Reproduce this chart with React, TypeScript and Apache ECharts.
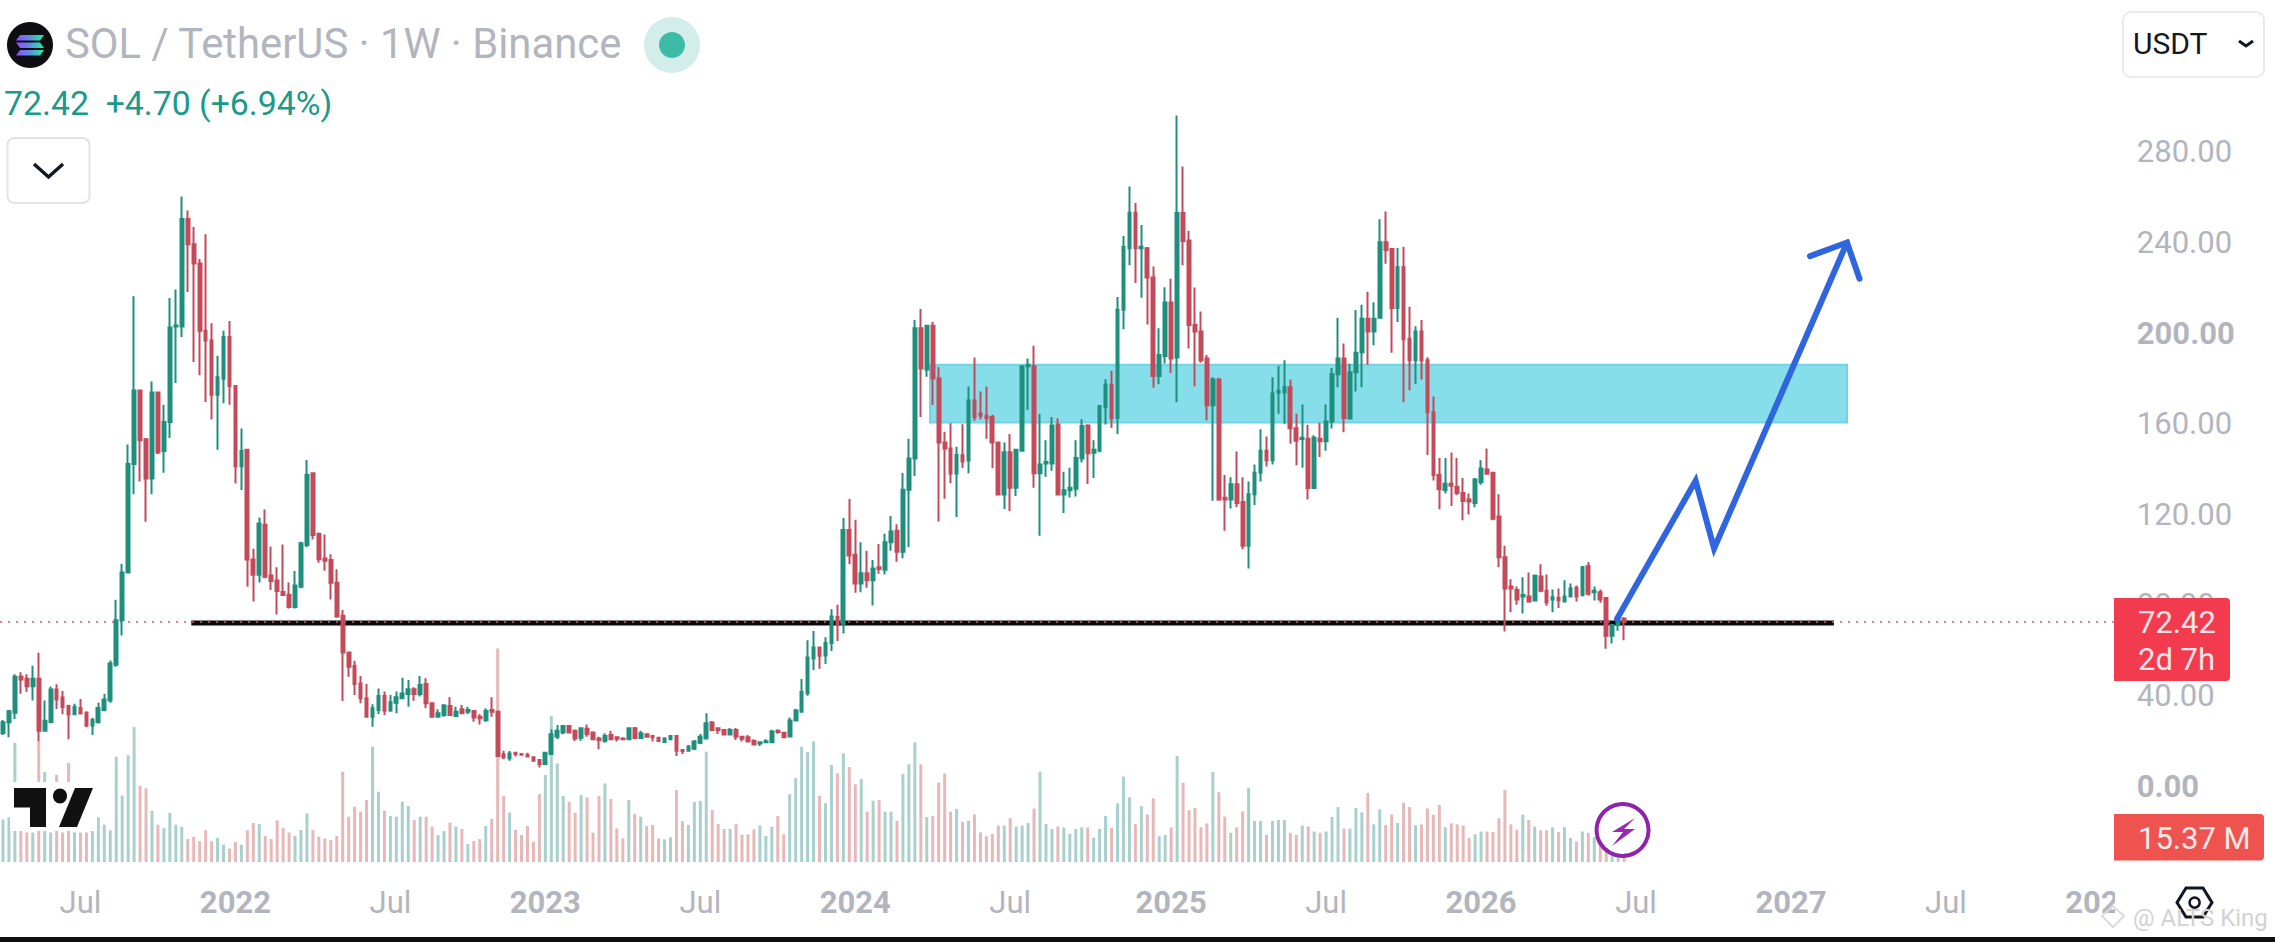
import React, { useEffect, useRef } from "react";
import * as echarts from "echarts";

const FONT = "Roboto";
const WEEK_COUNT = 355;

const opens = [
  23.4,28.2,32.4,48.3,47.4,44.1,47.4,24.4,28.2,42.6,
  39.1,35.3,31.7,34.4,32.4,26.7,28.2,33.6,37.8,53.5,
  73.2,94.3,142.2,174.7,153.1,135.8,173.8,147.9,160.7,202.9,
  202.9,250.4,239.3,230.8,201,196.7,172.8,179.9,198.3,176.6,
  141.2,148.5,100,93.3,115.4,93,90.8,85.7,84.3,79,
  88,106.4,138.1,111.3,100.5,99.8,89.8,75.2,59,53,
  45.3,38.7,30.6,33.6,39.8,33.3,36.8,38.7,40.6,42.7,
  40.6,45,36.5,30.6,31.4,35.3,30.9,33.9,32.8,33.1,
  30.6,29.2,33.6,32.8,14,12.2,14.7,14.1,13.7,12.7,
  11.5,9.7,14.1,21.8,23.6,26.5,24.4,21.3,25.3,23.6,
  21,20,22.5,21.5,21,20.6,25.5,21.2,22.8,22.1,
  21.3,19.4,20.6,22.1,15.9,15.6,16.5,19.1,21,28,
  25.5,24.7,22.7,24.7,21.7,21.5,19.9,18.8,19.3,19.3,
  24.4,23.5,21.9,28.9,32.8,41,56.3,61.2,57.6,63.1,
  74.6,71.6,113.1,102.1,89.4,94,90.9,96.6,95.5,107.6,
  112.7,103.4,130.8,144.6,202.1,183.9,203.3,180,151.7,149.1,
  138,146.1,143.7,170.3,164.5,163.5,163,151.7,128.7,147.4,
  131.7,148,185.4,185.4,138.1,142.4,142.4,159.6,128.7,130.6,
  131.3,144.6,159.2,147.2,148,167.3,177.2,162.6,210.3,237.5,
  253.2,237.5,237.5,224.6,181.1,189.9,213.5,189.2,253,240.9,
  203.6,200.7,188.8,168.2,179.5,127.3,126.5,133.3,125.4,106.1,
  128.8,138.3,148.1,143.9,173.8,173.8,176.1,158,153.2,153.4,
  131.6,153.4,152.3,161,181.8,188.8,162.3,182.7,191.6,206.4,
  200.7,206.8,240.1,237.1,211.1,229.1,197.5,188,200.7,188,
  165.1,137.3,130.7,133.5,132.2,129.4,126.5,125,134.1,139.8,
  138.3,119,101,88.1,86.6,83.7,83.7,81.9,92.5,86.2,
  82.4,83,81.5,83.7,87.5,84.3,97,85.6,85.6,83,
  66.3,71.1,74,
];

const closes = [
  28.2,33,48.3,47,44.1,47.4,24.4,28.8,42.6,38.2,
  34.9,31.7,34.9,32,26.7,29.2,34.4,38.2,54.1,73.2,
  94.3,142.2,174.7,152.7,135.8,173.8,147.3,160.7,202.5,203.4,
  250.4,239.3,230.8,201,196.7,172.8,180.5,198.3,176.6,141.2,
  147.9,100,93.3,115.9,92.4,90.5,86.1,84.3,79,88.5,
  107.2,137.3,110.8,100.1,99.5,89.8,74.8,59,52.7,45,
  38.7,30.6,34.3,39.8,33.3,37,39.2,40.9,42.7,40.6,
  44.6,36.5,30.6,32.1,35.5,31.4,32.8,32.1,33.6,30.3,
  29.9,33.1,32.8,13.3,12.7,14.4,14.1,13.8,13,11.2,
  9.7,14.7,22.8,24.4,26.5,23.6,21,25.5,23,20.6,
  20.3,22.1,20.6,20.9,20.6,25.5,21.2,23.3,21.8,21.5,
  19.9,21,22.1,15.6,15.5,17.4,19.7,21.8,27.7,24.7,
  24.7,22.7,24.7,21.8,20.9,19.6,18.3,19.3,19.8,24.1,
  23.8,21.5,28.9,33.3,41.5,56.7,61.2,57.5,63.1,74.9,
  71.2,113.1,101.8,89.4,94,90.9,96.1,95.8,107.6,112.4,
  103.4,130.8,144.6,202.1,184.4,203.3,180,151.7,149,138,
  146.2,143.3,170.3,163,163.5,162.4,151.7,128.7,147.4,131.7,
  148.5,185.4,186,138.1,142,143.1,159.2,128.7,130.6,131.7,
  144.8,159,147,148.5,167.8,177.2,162.4,210.3,238,253.2,
  237.5,238.2,224.6,181.1,190.3,213.5,188.8,253,240.7,203.6,
  200.7,188,168.2,179.5,126.5,126.5,133.3,125,106.1,128.8,
  138.3,148.1,143.9,173.3,174.6,176.1,158,152.5,153.8,131.6,
  153.8,152.3,161,181.8,188.8,162.5,182.7,191.3,206.4,200.7,
  206.4,240.1,236.7,211.1,229.1,197.3,188,200.7,187.9,165.1,
  137.3,131.1,133.5,132.6,129.4,125.9,125.6,135.4,140.2,137.9,
  118,101,87.2,87.2,82.4,84.3,81.5,92.8,86.2,81.1,
  83.4,82,83.7,87.2,83.7,96.6,84.9,86.2,82.4,66.3,
  71.1,73.9,72.42,
];

const lows = [
  22.5,21.5,29.6,40.7,41.6,37.8,19.6,24.4,27.8,34,
  31.7,20.6,31.5,31.7,25.9,22.5,27.6,33,36.8,52.7,
  66.5,94.3,128.8,134.5,116.7,128.8,146.6,138.3,153.7,178,
  198.3,218.2,187.2,181.4,169.6,161.9,148.5,169,168.4,133.6,
  130.7,88,81.5,89.9,91.8,86.6,75.7,84.1,78.4,78.4,
  87.3,105.4,108.9,98.6,95.1,82.4,74.3,37.5,48.3,40.2,
  36.5,30.6,26.2,31.8,31.4,32.8,32.1,38.7,35,37.7,
  39.5,34.3,30.3,30.6,30.6,30.9,30.6,31.8,31.8,28.4,
  27.2,28.3,30.6,13,11.8,11.2,13,13.5,12.7,11.2,
  8.2,9.7,14.1,20.8,22.8,23.3,19.9,20,21.8,20.3,
  16.2,19.1,20.3,19.6,20.3,20.6,20.9,20.8,21.5,19.7,
  19.6,19.1,20.3,13.3,14.1,15.5,15.9,18.6,20.6,24.4,
  23,22.5,22.4,20.3,19.6,19.6,18,17.7,19.3,19.1,
  23.1,21.4,21.7,28.8,32.7,39.9,51.2,51.8,53.9,59.6,
  64,67.3,97.9,85.3,85.6,87.6,79.7,93.7,93.4,103.9,
  99,100.6,105.5,136.9,163,180.7,168.3,116.8,126.9,133.7,
  118.8,140.4,138.1,161.3,161.8,153.4,140.3,128.5,122.3,121.4,
  128.1,147.8,166.1,131.7,110.5,136.6,139.2,128.5,120.6,127.4,
  127.8,142.9,133.4,136,147.4,159.6,158.1,155.5,201.7,230,
  222.1,215.6,203.8,175.9,177.4,186.6,182.4,169.5,230,193.2,
  176.5,186.9,161.5,126,126,112.7,122.5,123.1,104.6,96.1,
  124.1,134.5,141.1,142,164.4,160,151.1,141.7,140.5,126.5,
  131.3,145.3,148.1,157.9,176.1,156.2,161.9,174.2,176.1,186,
  194.7,206.8,230.6,191.3,204.9,169.5,174.8,177.6,179.5,146.2,
  134.9,122.2,129.2,123.7,128.4,117.4,119.9,123.1,133,137.9,
  117.4,96.6,68.2,76.7,80,76.2,80.9,81.9,85.6,79.6,
  76.7,78.6,81.5,83.4,81.5,83.7,84.1,81.9,80.9,60.6,
  62.9,68.6,64.4,
];

const highs = [
  29.2,33.6,49.3,50.2,49.3,53.1,58.9,37.8,43.9,44.9,
  42,35.9,36.3,38.4,33,30.1,36.8,40.7,55.4,82.2,
  98.1,150.8,216.3,175.1,153.7,178.6,174.1,168.4,215.5,219.3,
  260.3,254.2,246.9,232.7,243.7,204.4,190,201,205.4,177,
  157.9,148.9,104.8,118.6,122.1,105.8,96.6,106.7,89.9,94.9,
  107.9,144,138.5,111.9,111.1,102.3,95.7,77.7,59,55.3,
  48.6,45,36.1,43.1,41.7,40.2,41.7,47.8,46.8,43.6,
  48.6,47.6,36.8,33.9,36.2,39.2,35,35.8,35,33.6,
  31.7,34.3,39.2,33.3,15.6,15.5,15,14.4,14.7,13,
  11.8,15,25,26.9,26.9,26.5,25,25.9,27.2,24,
  21.8,23.3,24.4,21.8,21.5,25.6,26.1,24.4,23.3,22.5,
  21.8,21.5,22.5,22.5,16.2,18.1,20.3,23,32.1,28.7,
  25.9,25,25.6,25.6,21.9,22.5,20.6,19.8,20.6,24.8,
  25.1,23.8,30.2,34.1,47.3,64.4,68.4,61.5,65.7,78.1,
  80,118.4,126.7,117.6,107.6,103.9,99.8,106.9,111.4,119.2,
  115.6,138.2,153.3,205.8,210.7,203.7,204.9,184.9,156.5,160.2,
  149.8,159.8,176.4,189.2,174.2,176.4,163.9,152.1,151.7,155.5,
  148.9,185.6,188.8,194.4,164.3,152.7,163,162.4,138.8,140.5,
  152.7,162,159.8,152.7,168.2,179.6,183.4,216,242.9,264.8,
  257.5,247.8,238,229.4,202.1,220.3,224,296.1,273.6,245.2,
  220.2,209.6,190.3,180.5,180.3,137.3,136.4,147.7,136.4,134.5,
  142,157.6,154.4,180.5,185.6,188,179.5,164.4,168.5,159.5,
  154.9,160.4,168.5,184.6,206.8,195.4,186.5,210.2,212.5,218.3,
  213.6,250.3,253.7,237.6,237.6,238.2,211.7,203,205.8,189.4,
  172,144.9,144.9,147.3,144.9,136,129.2,136,143.9,149,
  138.3,128.8,106.1,91.3,88.1,92.2,94.3,93.4,97.9,93.4,
  86.8,87.2,90.9,89.4,88.5,97.2,98.9,88.1,86.8,83.4,
  71.6,74.3,74.5,
];

const volumesM = [
  27.2,28.6,76.3,34.1,18.9,18.9,77.1,57.7,18.9,55.8,
  18.9,63.3,18.9,18.9,18.9,22.5,28.6,23.9,20.3,67.4,
  42.5,68.3,86.3,48.8,47.2,32.7,23.9,21.6,31.4,23.9,
  22.5,14.7,16.1,13.3,20.3,13.3,15.3,11.1,8.6,12.8,
  11.1,20.3,25,24.4,16.7,14.7,26.6,21.6,18.9,16.7,
  20.5,31.1,20.5,16.2,15.1,14.1,16.6,57.8,29,35.4,
  32.2,39.7,73.8,45,32.8,29.4,29,38.6,35.8,26.9,
  29,29,22.6,17.3,19.8,25.2,22.6,21.1,11.5,13.4,
  14.7,23,27.5,136.7,42.2,31.6,20.5,17.3,23,13,
  43.5,55.7,93.4,63.1,42.2,38.6,31.6,42.9,41.4,18.8,
  42.2,50.3,40.3,21.5,15.1,39.7,30.7,29,23,23.7,
  15.1,14.5,15.8,46.1,26.2,23.7,38.4,39,70.6,33.3,
  24.3,21.1,21.1,24.3,17.5,17.7,21,23.4,16.6,22.4,
  29.4,17.7,43.4,53.7,73.8,70.3,77.3,42.3,37.6,62.1,
  56.7,69.6,60.7,49.7,53.2,32.2,39.2,39.7,32.2,32.2,
  26.4,56.3,62.6,76.6,62.6,28.7,29.4,50.9,56.7,32.2,
  33.9,25.7,26.4,30.5,19,16.5,18,23.3,23.3,28,
  22.7,23.3,24.9,34.2,57.8,24.3,21.1,22.7,22.1,18,
  21.1,22.1,22.1,15.6,21.1,29.5,21.8,37.6,54.7,41.4,
  24.3,35.8,30.5,40.7,16.5,17.4,22.1,67.8,50.7,33.2,
  34.6,22.2,24.7,57.6,44.7,29.1,18.7,22.2,32.4,47.5,
  26.3,26.3,17.3,26.3,26.9,26.9,18.7,17.3,23.3,22.8,
  19.5,18.7,19.5,28.8,35.1,21.4,21.4,34.6,31.8,44.2,
  24.1,33.7,23.6,30.4,25,37.9,35.1,23.6,24.1,34.3,
  30.2,36.5,22.2,24.7,24.1,23.3,15.4,17.8,19.5,19.5,
  19.2,28,46.1,24.1,20.6,30.4,26.9,22.8,20.3,20.3,
  22.2,19.2,22.2,15.4,13.2,19.5,18.7,15.9,14.6,20,
  16,15,15.37,
];

const tickIndexes = [13, 39, 65, 91, 117, 143, 169, 196, 222, 248, 274, 300, 326, 352];
const tickTexts = ["Jul", "2022", "Jul", "2023", "Jul", "2024", "Jul", "2025", "Jul", "2026", "Jul", "2027", "Jul", "2028"];

const priceTicks = [0, 40, 80, 120, 160, 200, 240, 280];
const boldPriceTicks = [0, 200];

const lastPrice = 72.42;
const supportLevel = 72;
const supportFromIndex = 31.6;
const supportToIndex = 307.2;
const zoneFromIndex = 155.55;
const zoneToIndex = 309.4;
const zoneTop = 186;
const zoneBottom = 160.5;
const arrowIndexes = [270.8, 284, 287.1, 309.4];
const arrowPrices = [73.8, 134.8, 104.9, 240];
const arrowHeadIndexes = [303.2, 309.4, 311.5];
const arrowHeadPrices = [234, 240, 224];

const UP = "#1f8f7d";
const DOWN = "#c44a5a";
const VOL_UP = "#a8d0cc";
const VOL_DOWN = "#e8b8b8";
const AXIS_TEXT = "#b2b5be";

const categories = Array.from({ length: WEEK_COUNT }, (_, i) => {
  const d = new Date(Date.UTC(2021, 3, 5 + i * 7));
  return d.toISOString().slice(0, 10);
});

function xAt(api: any, idx: number, y: number) {
  const i = Math.floor(idx);
  const a = api.coord([i, y]);
  const b = api.coord([i + 1, y]);
  return [a[0] + (b[0] - a[0]) * (idx - i), a[1]];
}

function buildGraphics() {
  const txt = (text: string, x: number, y: number, size: number, fill: string, extra: any = {}) => ({
    type: "text",
    z: 101,
    x,
    y,
    style: { text, fontFamily: FONT, fontSize: size, fill, verticalAlign: "middle", align: "left", ...extra },
  });
  const solGrad = new echarts.graphic.LinearGradient(0, 0, 1, 0, [
    { offset: 0, color: "#9945ff" },
    { offset: 0.5, color: "#5a8fe0" },
    { offset: 1, color: "#19fb9b" },
  ]);
  return [
    { type: "rect", z: 100, shape: { x: 2115, y: 868, width: 160, height: 70 }, style: { fill: "#ffffff" } },
    { type: "rect", z: 100, shape: { x: 0, y: 937, width: 2275, height: 5 }, style: { fill: "#111111" } },
    { type: "circle", z: 101, shape: { cx: 30, cy: 45, r: 23 }, style: { fill: "#0e0e12" } },
    { type: "polygon", z: 102, shape: { points: [[20, 35], [44, 35], [40, 40.5], [16, 40.5]] }, style: { fill: solGrad } },
    { type: "polygon", z: 102, shape: { points: [[16, 42.5], [40, 42.5], [44, 48], [20, 48]] }, style: { fill: solGrad } },
    { type: "polygon", z: 102, shape: { points: [[20, 50], [44, 50], [40, 55.5], [16, 55.5]] }, style: { fill: solGrad } },
    txt("SOL / TetherUS · 1W · Binance", 65, 43, 41.8, AXIS_TEXT),
    { type: "circle", z: 101, shape: { cx: 672, cy: 45, r: 28 }, style: { fill: "#d3eeea" } },
    { type: "circle", z: 102, shape: { cx: 672, cy: 45, r: 13 }, style: { fill: "#3dbba7" } },
    txt("72.42  +4.70 (+6.94%)", 4, 103, 33.8, "#1a9a8a"),
    { type: "rect", z: 101, shape: { x: 7.5, y: 138, width: 82, height: 65, r: 7 }, style: { fill: "#ffffff", stroke: "#e0e3eb", lineWidth: 2 } },
    { type: "polyline", z: 102, shape: { points: [[34, 164], [48.5, 177], [63, 164]] }, style: { stroke: "#131722", lineWidth: 3.5, fill: null } },
    { type: "rect", z: 101, shape: { x: 2123, y: 12, width: 141, height: 65, r: 8 }, style: { fill: "#ffffff", stroke: "#e8eaf0", lineWidth: 2 } },
    txt("USDT", 2133, 43, 30, "#131722"),
    { type: "polyline", z: 102, shape: { points: [[2239, 41], [2246, 46], [2253, 41]] }, style: { stroke: "#131722", lineWidth: 3, fill: null } },
    { type: "rect", z: 101, shape: { x: 2114, y: 598, width: 116, height: 83, r: [0, 4, 4, 0] }, style: { fill: "#f23b4e" } },
    txt("72.42", 2138, 622.5, 31, "#ffe3e6"),
    txt("2d 7h", 2138, 659, 31, "#ffe3e6"),
    { type: "rect", z: 101, shape: { x: 2114, y: 814, width: 150, height: 46.5, r: [0, 4, 4, 0] }, style: { fill: "#ef5350" } },
    txt("15.37 M", 2138, 838, 31, "#ffe9e8"),
    { type: "rect", z: 100, shape: { x: 10, y: 782, width: 87, height: 49 }, style: { fill: "#ffffff" } },
    { type: "polygon", z: 101, shape: { points: [[14, 788], [46, 788], [46, 827], [30, 827], [30, 807.5], [14, 807.5]] }, style: { fill: "#111111" } },
    { type: "ellipse", z: 101, shape: { cx: 60, cy: 796, rx: 7, ry: 7.5 }, style: { fill: "#111111" } },
    { type: "polygon", z: 101, shape: { points: [[75, 788], [93, 788], [77, 827], [59, 827]] }, style: { fill: "#111111" } },
    { type: "circle", z: 101, shape: { cx: 1622.6, cy: 830, r: 26 }, style: { fill: "#ffffff", stroke: "#8e24aa", lineWidth: 4 } },
    { type: "polygon", z: 102, shape: { points: [[1635, 818], [1612, 832], [1623, 832], [1612, 846], [1635, 829], [1624, 829]] }, style: { fill: "#9c27b0" } },
    { type: "polygon", z: 101, shape: { points: [[2177, 902.6], [2186, 888], [2203, 888], [2212, 902.6], [2203, 917], [2186, 917]] }, style: { fill: "#ffffff", stroke: "#131722", lineWidth: 3 } },
    { type: "circle", z: 102, shape: { cx: 2194.6, cy: 902.6, r: 5 }, style: { fill: "#ffffff", stroke: "#131722", lineWidth: 2.5 } },
    { type: "polygon", z: 101, shape: { points: [[2113, 906], [2124, 916], [2113, 927], [2102, 916]] }, style: { fill: "none", stroke: "#dcdcdc", lineWidth: 2 } },
    txt("@ ALTS King", 2133, 918, 24, "#d2d2d2"),
  ];
}

export default function App() {
  const ref = useRef<HTMLDivElement>(null);
  useEffect(() => {
    document.body.style.margin = "0";
    document.body.style.background = "#ffffff";
    const chart = echarts.init(ref.current!, undefined, { renderer: "svg" });
    const candleData = opens.map((o, i) => [o, closes[i], lows[i], highs[i]]);
    const volumeData = volumesM.map((v, i) => ({
      value: v,
      itemStyle: { color: closes[i] >= opens[i] ? VOL_UP : VOL_DOWN },
    }));
    chart.setOption({
      animation: false,
      backgroundColor: "#ffffff",
      textStyle: { fontFamily: FONT },
      grid: [
        { left: 0, top: 61.4, width: 2115.8, height: 724.6 },
        { left: 0, top: 632, width: 2115.8, height: 230 },
      ],
      xAxis: [
        { type: "category", gridIndex: 0, data: categories, show: false, boundaryGap: true },
        {
          type: "category",
          gridIndex: 1,
          data: categories,
          boundaryGap: true,
          axisLine: { show: false },
          axisTick: { show: false },
          axisLabel: {
            margin: 25,
            hideOverlap: false,
            interval: (index: number) => tickIndexes.includes(index),
            formatter: (_: string, index: number) => {
              const t = tickTexts[tickIndexes.indexOf(index)] ?? "";
              return t === "Jul" ? `{n|${t}}` : `{b|${t}}`;
            },
            rich: {
              n: { fontFamily: FONT, fontSize: 31, color: AXIS_TEXT },
              b: { fontFamily: FONT, fontSize: 31, fontWeight: 700, color: AXIS_TEXT },
            },
          },
        },
      ],
      yAxis: [
        {
          type: "value",
          gridIndex: 0,
          position: "right",
          min: 0,
          max: 320,
          interval: 40,
          splitLine: { show: false },
          axisLine: { show: false },
          axisTick: { show: false },
          axisLabel: {
            margin: 21,
            align: "left",
            formatter: (v: number) => {
              if (!priceTicks.includes(v)) return "";
              return boldPriceTicks.includes(v) ? `{b|${v.toFixed(2)}}` : `{n|${v.toFixed(2)}}`;
            },
            rich: {
              n: { fontFamily: FONT, fontSize: 31, color: AXIS_TEXT },
              b: { fontFamily: FONT, fontSize: 31, fontWeight: 700, color: AXIS_TEXT },
            },
          },
        },
        { type: "value", gridIndex: 1, min: 0, max: 147.2, show: false, splitLine: { show: false } },
      ],
      series: [
        {
          type: "bar",
          name: "Volume",
          xAxisIndex: 1,
          yAxisIndex: 1,
          barWidth: 3,
          z: 1,
          data: volumeData,
        },
        {
          type: "custom",
          name: "Levels",
          xAxisIndex: 0,
          yAxisIndex: 0,
          z: 2,
          clip: false,
          silent: true,
          encode: { x: 0, y: 1 },
          data: [[0, 0]],
          renderItem: (params: any, api: any) => {
            const cs = params.coordSys;
            const [zx0, zy0] = xAt(api, zoneFromIndex, zoneTop);
            const [zx1, zy1] = xAt(api, zoneToIndex, zoneBottom);
            const [sx0, sy] = xAt(api, supportFromIndex, supportLevel);
            const [sx1] = xAt(api, supportToIndex, supportLevel);
            const py = api.coord([0, lastPrice])[1];
            return {
              type: "group",
              children: [
                {
                  type: "rect",
                  shape: { x: zx0, y: zy0, width: zx1 - zx0, height: zy1 - zy0 },
                  style: { fill: "#87deeb", stroke: "#6fd5e5", lineWidth: 2 },
                },
                {
                  type: "line",
                  shape: { x1: sx0, y1: sy, x2: sx1, y2: sy },
                  style: { stroke: "#0a0a0a", lineWidth: 5 },
                },
                {
                  type: "line",
                  shape: { x1: cs.x, y1: py, x2: cs.x + cs.width - 2, y2: py },
                  style: { stroke: "#d8576a", lineWidth: 1.5, lineDash: [2, 6] },
                },
              ],
            };
          },
        },
        {
          type: "candlestick",
          name: "SOLUSDT",
          xAxisIndex: 0,
          yAxisIndex: 0,
          barWidth: 3.2,
          z: 3,
          itemStyle: { color: UP, color0: DOWN, borderColor: UP, borderColor0: DOWN, borderWidth: 2 },
          data: candleData,
        },
        {
          type: "custom",
          name: "Projection",
          xAxisIndex: 0,
          yAxisIndex: 0,
          z: 4,
          clip: false,
          silent: true,
          encode: { x: 0, y: 1 },
          data: [[0, 0]],
          renderItem: (_: any, api: any) => {
            const lineStyle = { stroke: "#2f66e0", lineWidth: 6, fill: null, lineJoin: "miter", lineCap: "round" };
            return {
              type: "group",
              children: [
                {
                  type: "polyline",
                  shape: { points: arrowIndexes.map((x, i) => xAt(api, x, arrowPrices[i])) },
                  style: lineStyle,
                },
                {
                  type: "polyline",
                  shape: { points: arrowHeadIndexes.map((x, i) => xAt(api, x, arrowHeadPrices[i])) },
                  style: lineStyle,
                },
              ],
            };
          },
        },
      ],
      graphic: { elements: buildGraphics() },
    });
    return () => chart.dispose();
  }, []);
  return <div ref={ref} style={{ position: "absolute", left: 0, top: 0, width: 2275, height: 942 }} />;
}
